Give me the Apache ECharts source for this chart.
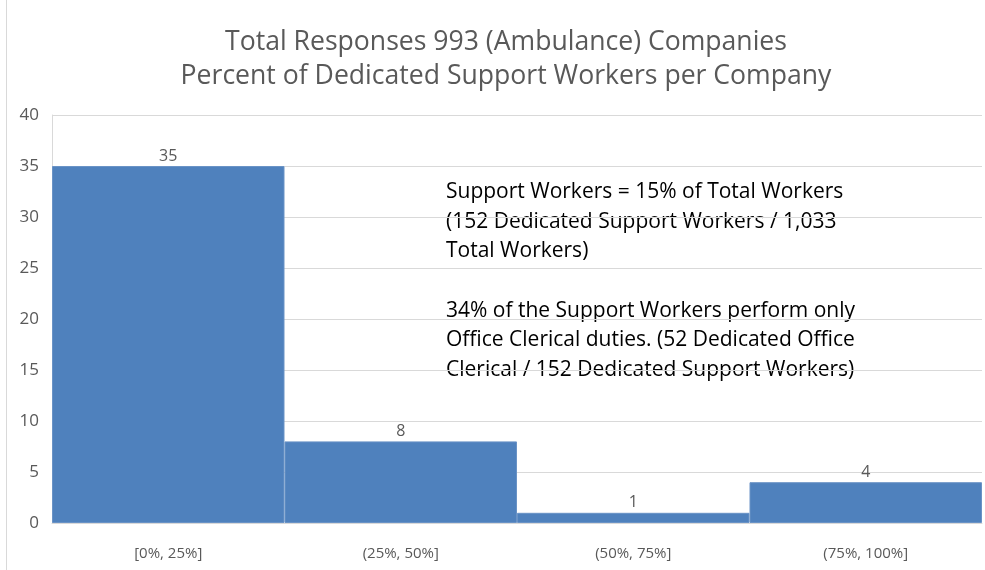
<!DOCTYPE html>
<html>
<head>
<meta charset="utf-8">
<script src="https://cdn.jsdelivr.net/npm/echarts@6/dist/echarts.min.js"></script>
<style>
  html, body { margin: 0; padding: 0; background: #fff; }
  #main { width: 985px; height: 570px; }
</style>
</head>
<body>
<div id="main"></div>
<script>
// data
var categories = ['[0%, 25%]', '(25%, 50%]', '(50%, 75%]', '(75%, 100%]'];
var counts = [35, 8, 1, 4];
var titleLines = ['Total Responses 993 (Ambulance) Companies', 'Percent of Dedicated Support Workers per Company'];
var noteLines = [
    'Support Workers = 15% of Total Workers',
    '(152 Dedicated Support Workers / 1,033',
    'Total Workers)',
    '',
    '34% of the Support Workers perform only',
    'Office Clerical duties. (52 Dedicated Office',
    'Clerical / 152 Dedicated Support Workers)'
];

var font = 'Open Sans';
var myChart = echarts.init(document.getElementById('main'));

var option = {
    backgroundColor: '#fff',
    animation: false,
    title: {
        text: titleLines.join('\n'),
        left: 501,
        textAlign: 'center',
        top: 20,
        textStyle: {
            color: '#595959',
            fontFamily: font,
            fontWeight: 'normal',
            fontSize: 26.6,
            lineHeight: 34
        }
    },
    grid: {
        left: 52,
        right: 3,
        top: 115,
        bottom: 47
    },
    xAxis: {
        type: 'category',
        data: categories,
        axisTick: { show: false },
        axisLine: { lineStyle: { color: '#d9d9d9' } },
        axisLabel: {
            color: '#595959',
            fontFamily: font,
            fontSize: 15,
            margin: 23
        }
    },
    yAxis: {
        type: 'value',
        min: 0,
        max: 40,
        interval: 5,
        axisLine: { show: true, lineStyle: { color: '#d9d9d9' } },
        axisLabel: {
            color: '#595959',
            fontFamily: font,
            fontSize: 17,
            margin: 13
        },
        splitLine: { lineStyle: { color: '#d9d9d9', width: 1 } }
    },
    series: [{
        type: 'bar',
        data: counts,
        barCategoryGap: 0,
        itemStyle: {
            color: '#4f81bd',
            borderColor: '#6a93c6',
            borderWidth: 1
        },
        label: {
            show: true,
            position: 'top',
            distance: 2,
            color: '#595959',
            fontFamily: font,
            fontSize: 16
        }
    }],
    graphic: [{
        type: 'rect',
        shape: { x: 6.5, y: -2, width: 990, height: 580 },
        style: { fill: 'none', stroke: '#d9d9d9', lineWidth: 1 },
        silent: true
    }, {
        type: 'text',
        left: 446,
        top: 177,
        style: {
            text: noteLines.join('\n'),
            fill: '#000',
            fontFamily: font,
            fontSize: 21,
            lineHeight: 29.7
        }
    }]
};
myChart.setOption(option);
</script>
</body>
</html>
